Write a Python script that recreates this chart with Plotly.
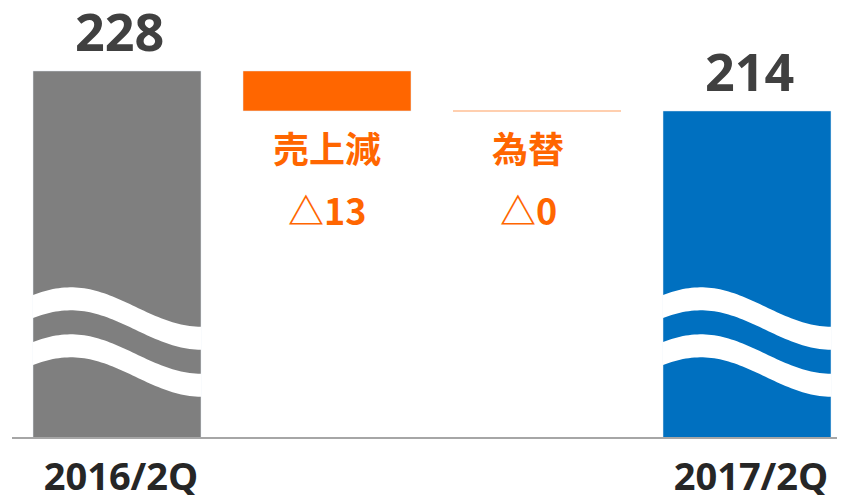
import numpy as np
import plotly.graph_objects as go

# ---------------- data ----------------
categories = ["2016/2Q", "売上減", "為替", "2017/2Q"]
start_value = 227.6          # 2016/2Q (shown as 228)
step_names = ["売上減", "為替"]
step_deltas = [-13.2, 0.0]   # shown as △13, △0
end_value = 214.4            # 2017/2Q (shown as 214)

# ---------------- style ----------------
GRAY = "#7F7F7F"
BLUE = "#0070C0"
ORANGE = "#FF6600"
ORANGE_LIGHT = "#FFBF94"
VALUE_COLOR = "#404040"
TICK_COLOR = "#262626"
BAR_W = 0.8

# the page body adds an 8px offset; size the figure to fill the window
PAGE_OFF = 8
W, H = 845 - PAGE_OFF, 495 - PAGE_OFF
M_L, M_R, M_T, M_B = 4, 0, 0, 58
PLOT_H = H - M_T - M_B
PLOT_BOTTOM_PAGE = PAGE_OFF + M_T + PLOT_H   # 437
PX_PER_UNIT = 40 / 13.2
Y0 = 106.8
Y_RANGE = [Y0, Y0 + PLOT_H / PX_PER_UNIT]
X_RANGE = [-0.5, -0.5 + (W - M_L - M_R) / 210.0]


def px_to_y(ypx):
    return Y_RANGE[0] + (PLOT_BOTTOM_PAGE - ypx) / PX_PER_UNIT


fig = go.Figure()

xs = list(range(len(categories)))

# start total
fig.add_trace(go.Bar(x=[xs[0]], y=[start_value], marker_color=GRAY, width=BAR_W,
                     hoverinfo="skip"))

# steps
level = start_value
annotations = []
for k, (name, d) in enumerate(zip(step_names, step_deltas)):
    xi = xs[1 + k]
    new_level = level + d
    if abs(d) > 1e-9:
        fig.add_trace(go.Bar(x=[xi], y=[abs(d)], base=[min(level, new_level)],
                             marker_color=ORANGE, width=BAR_W, hoverinfo="skip"))
    else:
        fig.add_trace(go.Scatter(x=[xi - BAR_W / 2, xi + BAR_W / 2], y=[level, level],
                                 mode="lines", line=dict(color=ORANGE_LIGHT, width=1.6),
                                 hoverinfo="skip"))
    bottom = min(level, new_level)
    xshift = 0 if k == 0 else -9
    annotations.append(dict(x=xi, y=bottom, xref="x", yref="y", text=name,
                            showarrow=False, yanchor="middle", yshift=-36, xshift=xshift,
                            font=dict(family="Noto Sans CJK JP", size=36, color=ORANGE,
                                      weight=700)))
    annotations.append(dict(x=xi, y=bottom, xref="x", yref="y",
                            text="△" + str(int(round(abs(d)))),
                            showarrow=False, yanchor="middle", yshift=-98, xshift=xshift,
                            font=dict(family="Noto Sans CJK JP", size=36, color=ORANGE,
                                      weight=700)))
    level = new_level

# end total
fig.add_trace(go.Bar(x=[xs[3]], y=[end_value], marker_color=BLUE, width=BAR_W,
                     hoverinfo="skip"))

# value labels on totals
for xi, v in [(xs[0], start_value), (xs[3], end_value)]:
    annotations.append(dict(x=xi, y=v, xref="x", yref="y", text=str(int(round(v))),
                            showarrow=False, yanchor="bottom", yshift=3, xshift=2,
                            font=dict(family="Open Sans", size=52, color=VALUE_COLOR,
                                      weight=700)))

# axis-break wave marks over the total bars (page-pixel geometry)
shapes = []
t = np.linspace(0, 1, 60)
phase = -0.915 + t * (np.pi + 0.915)
upper_px = 307 - 19.7 * np.cos(phase)
for xi in (xs[0], xs[3]):
    xx = xi - BAR_W / 2 + t * BAR_W
    for shift in (0, 47):
        up = px_to_y(upper_px + shift)
        lo = px_to_y(upper_px + shift + 23)
        pts = [(a, b) for a, b in zip(xx, up)] + [(a, b) for a, b in zip(xx[::-1], lo[::-1])]
        path = "M " + " L ".join(f"{a:.4f},{b:.4f}" for a, b in pts) + " Z"
        shapes.append(dict(type="path", path=path, xref="x", yref="y",
                           fillcolor="white", line=dict(width=0), layer="above"))

fig.update_layout(
    width=W, height=H,
    margin=dict(l=M_L, r=M_R, t=M_T, b=M_B, autoexpand=False),
    paper_bgcolor="white", plot_bgcolor="white",
    showlegend=False,
    barmode="overlay",
    annotations=annotations,
    shapes=shapes,
    xaxis=dict(range=X_RANGE, tickmode="array", tickvals=[xs[0], xs[3]],
               ticktext=[categories[0], categories[3]],
               tickfont=dict(family="Open Sans", size=38, color=TICK_COLOR, weight=700),
               showgrid=False, zeroline=False, showline=True, linecolor="#A6A6A6",
               linewidth=2, ticks="outside", ticklen=5, tickcolor="rgba(0,0,0,0)",
               ticklabelshift=4,
               fixedrange=True, automargin=False),
    yaxis=dict(range=Y_RANGE, visible=False, showgrid=False, zeroline=False,
               fixedrange=True),
)

fig.write_html("out.html")
